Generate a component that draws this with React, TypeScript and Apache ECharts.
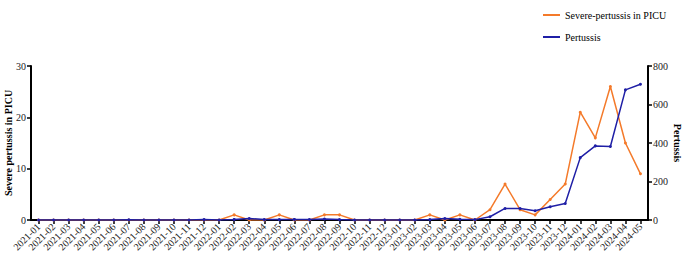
import React, { useEffect, useRef } from "react";
import * as echarts from "echarts";

const months: string[] = [
  "2021-01","2021-02","2021-03","2021-04","2021-05","2021-06","2021-07","2021-08","2021-09","2021-10","2021-11","2021-12",
  "2022-01","2022-02","2022-03","2022-04","2022-05","2022-06","2022-07","2022-08","2022-09","2022-10","2022-11","2022-12",
  "2023-01","2023-02","2023-03","2023-04","2023-05","2023-06","2023-07","2023-08","2023-09","2023-10","2023-11","2023-12",
  "2024-01","2024-02","2024-03","2024-04","2024-05",
];

const severePICU: number[] = [
  0,0,0,0,0,0,0,0,0,0,0,0,
  0,1,0,0,1,0,0,1,1,0,0,0,
  0,0,1,0,1,0,2,7,2,1,4,7,
  21,16,26,15,9,
];

const pertussis: number[] = [
  0,0,0,0,0,0,1,0,0,0,0,2,
  0,3,8,2,2,3,2,5,2,0,0,0,
  0,0,2,8,4,2,17,60,60,48,69,86,
  324,385,382,676,705,
];

const leftTicks = { min: 0, max: 30, interval: 10 };
const rightTicks = { min: 0, max: 800, interval: 200 };

const ORANGE = "#f47a2a";
const BLUE = "#1f1fa6";
const FONT = "Liberation Serif";

export default function App() {
  const ref = useRef<HTMLDivElement>(null);
  useEffect(() => {
    if (!ref.current) return;
    const chart = echarts.init(ref.current, undefined, { renderer: "svg" });
    const axisCommon = {
      axisLine: { show: true, lineStyle: { color: "#000", width: 2 } },
      axisTick: { show: true, length: 4, lineStyle: { color: "#000", width: 1.5 } },
      axisLabel: { color: "#222", fontFamily: FONT, fontSize: 10 },
      splitLine: { show: false },
      nameTextStyle: { color: "#000", fontFamily: FONT, fontSize: 10, fontWeight: "bold" as const },
    };
    chart.setOption({
      animation: false,
      textStyle: { fontFamily: FONT },
      legend: {
        orient: "vertical",
        left: 538,
        top: 5,
        itemWidth: 17,
        itemHeight: 2,
        itemGap: 12,
        icon: "rect",
        textStyle: { color: "#000", fontFamily: FONT, fontSize: 10 },
        data: ["Severe-pertussis in PICU", "Pertussis"],
      },
      grid: { left: 31, right: 37, top: 66, bottom: 37, containLabel: false, outerBoundsMode: "none" },
      xAxis: {
        type: "category",
        data: months,
        boundaryGap: true,
        ...axisCommon,
        axisTick: { ...axisCommon.axisTick, alignWithLabel: true, interval: 0 },
        axisLabel: { ...axisCommon.axisLabel, rotate: 45, interval: 0, fontSize: 10, margin: 5 },
      },
      yAxis: [
        {
          type: "value",
          position: "left",
          ...leftTicks,
          name: "Severe pertussis in PICU",
          nameLocation: "middle",
          nameGap: 18,
          nameMoveOverlap: false,
          ...axisCommon,
          axisLabel: { ...axisCommon.axisLabel, margin: 5 },
        },
        {
          type: "value",
          position: "right",
          ...rightTicks,
          name: "Pertussis",
          nameLocation: "middle",
          nameGap: 24,
          nameRotate: -90,
          nameMoveOverlap: false,
          ...axisCommon,
          axisLabel: { ...axisCommon.axisLabel, margin: 5 },
        },
      ],
      series: [
        {
          name: "Severe-pertussis in PICU",
          type: "line",
          yAxisIndex: 0,
          data: severePICU,
          symbol: "circle",
          symbolSize: 3,
          lineStyle: { color: ORANGE, width: 1.5 },
          itemStyle: { color: ORANGE },
          z: 3,
        },
        {
          name: "Pertussis",
          type: "line",
          yAxisIndex: 1,
          data: pertussis,
          symbol: "circle",
          symbolSize: 3,
          lineStyle: { color: BLUE, width: 1.5 },
          itemStyle: { color: BLUE },
          z: 4,
        },
      ],
    });
    return () => chart.dispose();
  }, []);
  return <div ref={ref} style={{ width: 685, height: 257, position: "absolute", left: 0, top: 0, fontFamily: FONT }} />;
}
